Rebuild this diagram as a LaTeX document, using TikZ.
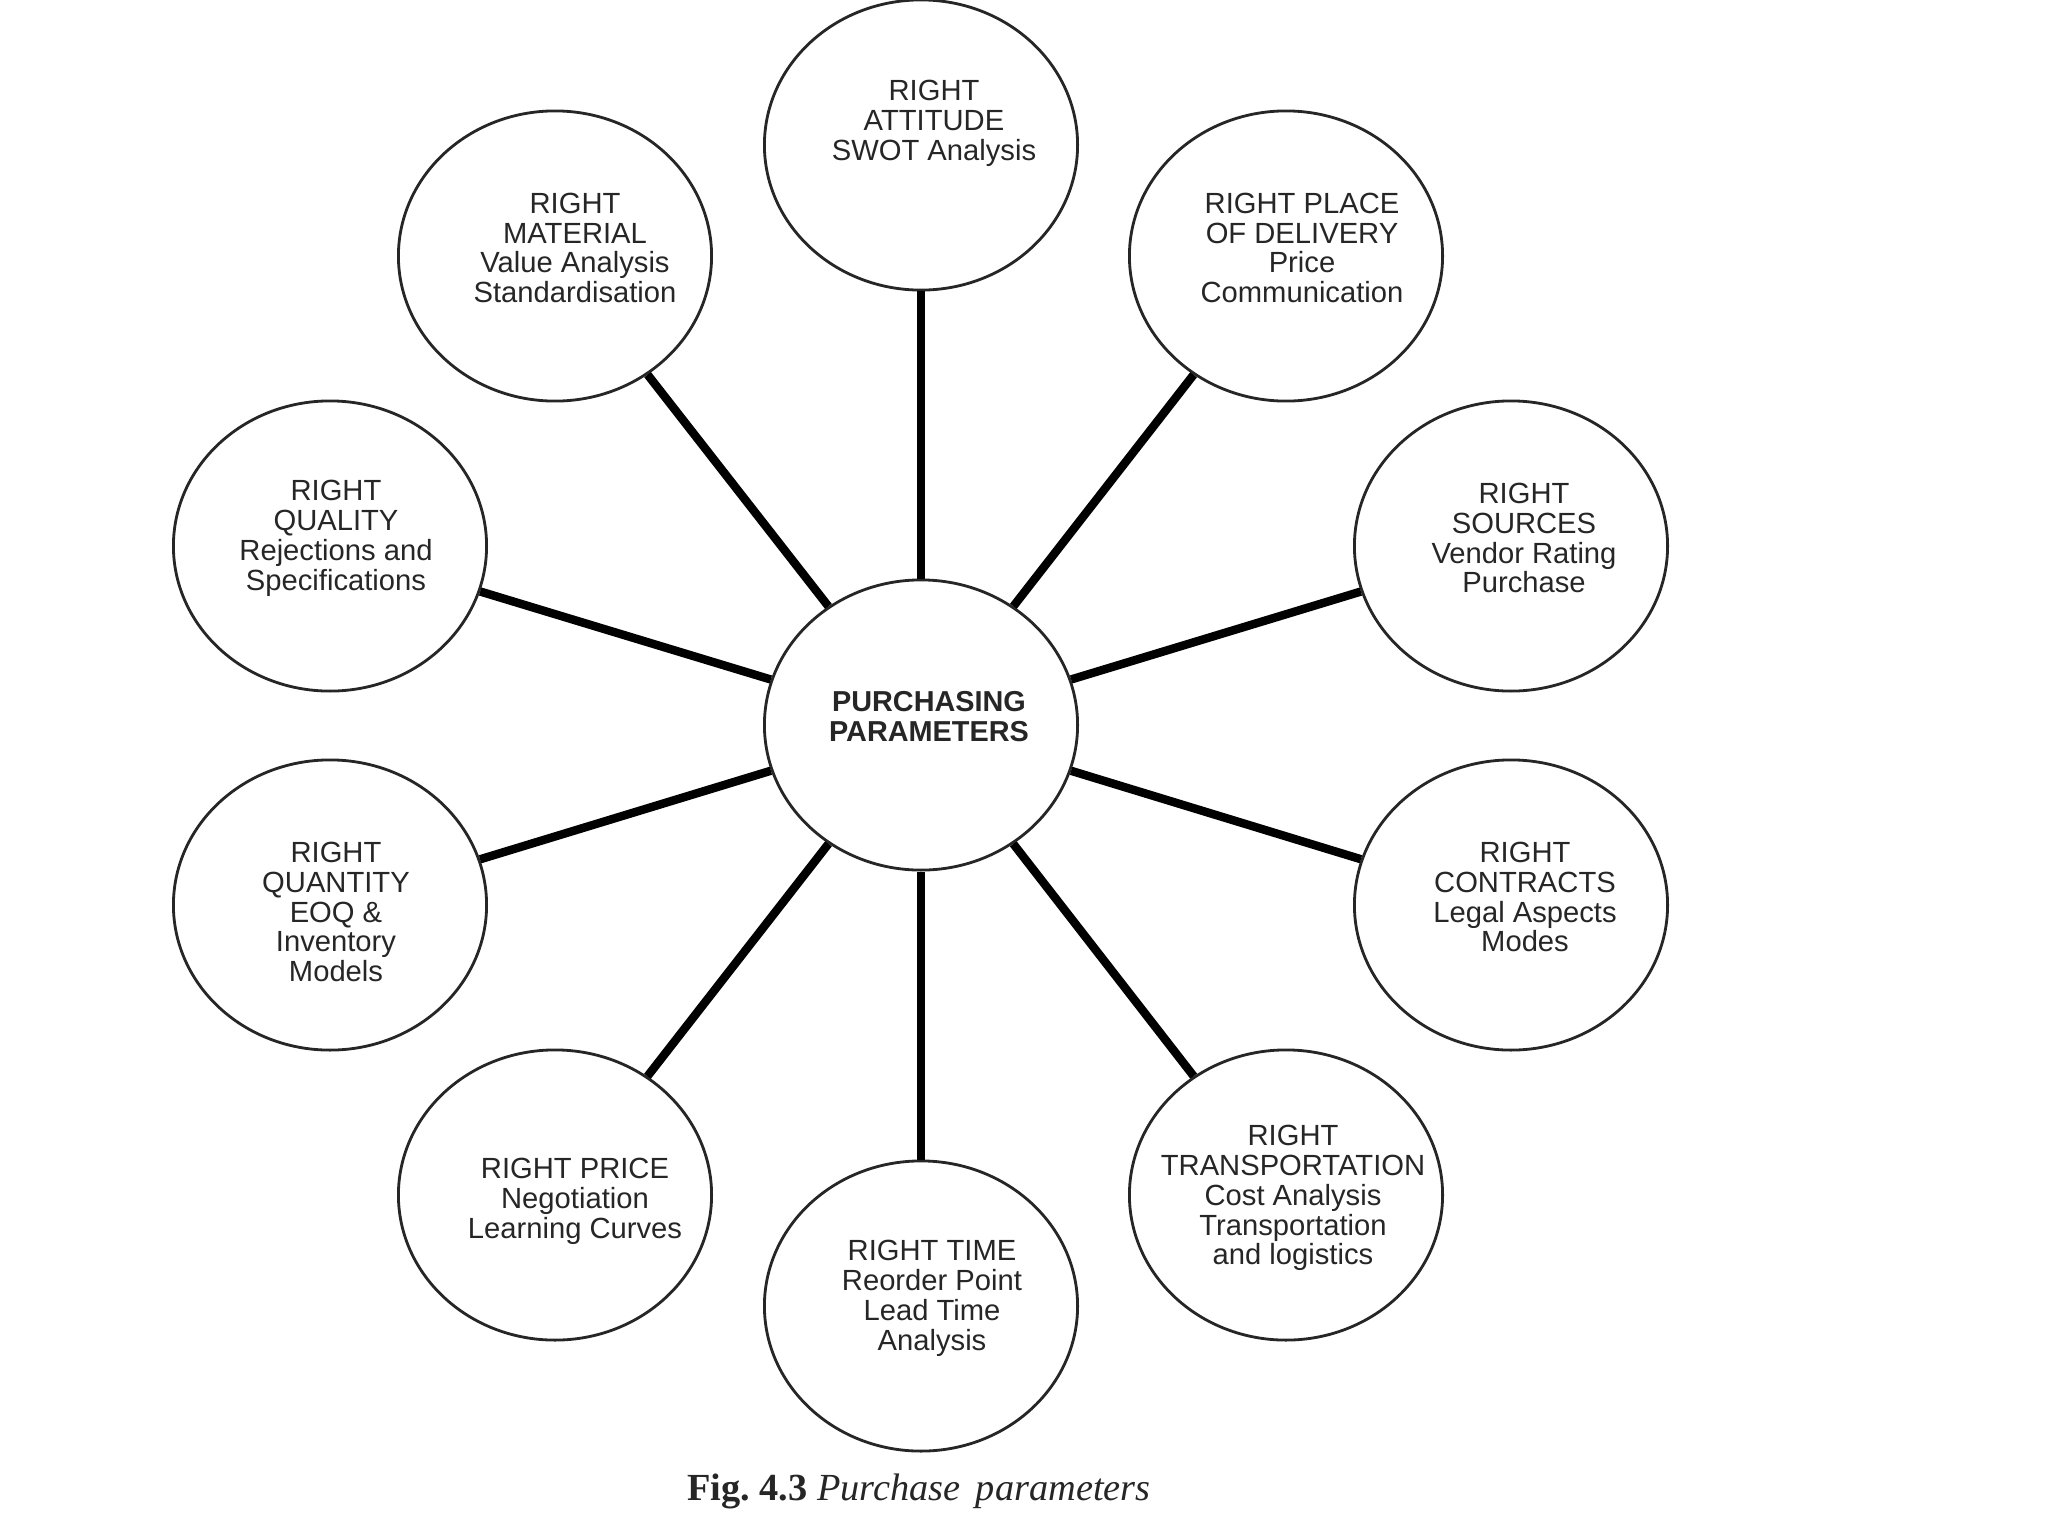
\documentclass[tikz,border=0pt]{standalone}
\usepackage{fontspec}
\setmainfont{Liberation Serif}
\setsansfont{Liberation Sans}
\usetikzlibrary{shapes.geometric}
\begin{document}
\begin{tikzpicture}[x=0.01cm,y=-0.01cm,
  bub/.style={ellipse,draw=black!85,line width=0.8pt,minimum width=3.13cm,minimum height=2.9cm,inner sep=0pt,fill=white},
  txt/.style={align=center,font=\sffamily\fontsize{8.3}{8.5}\selectfont,text=black!85,inner sep=0pt},
  conn/.style={line width=2.4pt,black}]
\useasboundingbox[fill=white] (0,0) rectangle (2048,1536);
% outer bubbles
\node[bub] (att) at (921,145) {};
\node[bub] (pla) at (1286,256) {};
\node[bub] (sou) at (1511,546) {};
\node[bub] (con) at (1511,905) {};
\node[bub] (tra) at (1286,1195) {};
\node[bub] (tim) at (921,1306) {};
\node[bub] (pri) at (555,1195) {};
\node[bub] (qua) at (330,905) {};
\node[bub] (qul) at (330,546) {};
\node[bub] (mat) at (555,256) {};
\node[bub] (cen) at (921,725) {};
% connectors
\foreach \n in {att,pla,sou,con,tra,tim,pri,qua,qul,mat}
  \draw[conn] (cen) -- (\n);
% texts
\node[txt] (tatt) at (934,123) {RIGHT\\ATTITUDE\\SWOT Analysis};
\node[txt] (tpla) at (1302,248) {RIGHT PLACE\\OF DELIVERY\\Price\\Communication};
\node[txt] (tsou) at (1524,538) {RIGHT\\SOURCES\\Vendor Rating\\Purchase};
\node[txt] (tcon) at (1525,897) {RIGHT\\CONTRACTS\\Legal Aspects\\Modes};
\node[txt] (ttra) at (1293,1198) {RIGHT\\TRANSPORTATION\\Cost Analysis\\Transportation\\and logistics};
\node[txt] (ttim) at (932,1298) {RIGHT TIME\\Reorder Point\\Lead Time\\Analysis};
\node[txt] (tpri) at (575,1201) {RIGHT PRICE\\Negotiation\\Learning Curves};
\node[txt] (tqua) at (336,912) {RIGHT\\QUANTITY\\EOQ \&\\Inventory\\Models};
\node[txt] (tqul) at (336,538) {RIGHT\\QUALITY\\Rejections and\\Specifications};
\node[txt] (tmat) at (575,248) {RIGHT\\MATERIAL\\Value Analysis\\Standardisation};
\node[txt,font=\sffamily\bfseries\fontsize{8.2}{8.5}\selectfont] (tcen) at (929,717) {PURCHASING\\PARAMETERS};
% caption
\node[inner sep=0pt,font=\fontsize{10.9}{12}\selectfont,text=black!85] (cap) at (919,1491) {\textbf{Fig.\ 4.3} \textit{Purchase\hspace{0.15em} parameters}};
\end{tikzpicture}
\end{document}
